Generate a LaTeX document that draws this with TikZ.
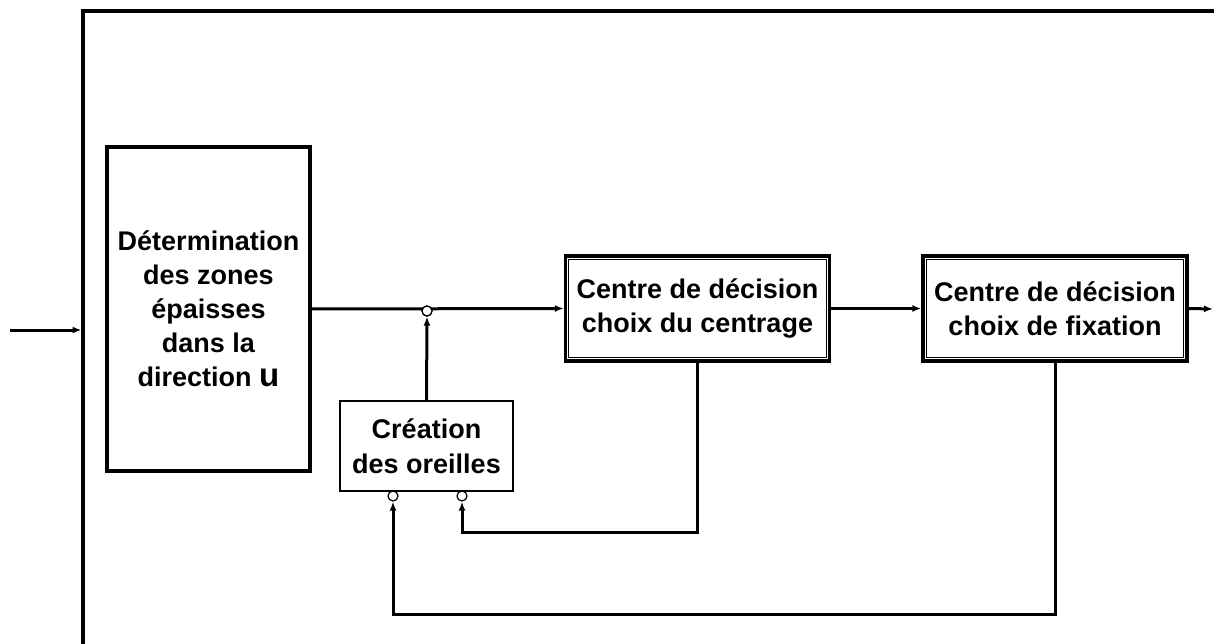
\documentclass[tikz,border=0pt]{standalone}
\usepackage{fontspec}
\setmainfont{Liberation Sans}
\usetikzlibrary{arrows.meta,calc}
\tikzset{
  box/.style={draw, line width=3.2pt, align=center, inner sep=0pt,
    font=\bfseries\fontsize{27}{34}\selectfont},
  thinbox/.style={draw, line width=1.2pt, align=center, inner sep=0pt,
    font=\bfseries\fontsize{27}{35}\selectfont},
  dblbox/.style={box, line width=3.4pt},
  conn/.style={line width=3pt},
  arr/.style={conn, -{Latex[length=9pt,width=7pt]}},
  junc/.style={circle, draw, line width=1.2pt, minimum size=10pt, inner sep=0pt, fill=white},
  frame/.style={line width=3.2pt}
}
\begin{document}
\begin{tikzpicture}[x=1pt,y=-1pt]
\useasboundingbox (0,0) rectangle (1214,644);
% open outer frame
\coordinate (fb) at (83,644);
\coordinate (ft) at (83,11);
\coordinate (fr) at (1214,11);
\draw[frame] (fb) -- (ft) -- (fr);
% nodes
\node[box, minimum width=203pt, minimum height=324pt] (lb) at (208.5,309)
  {D\'etermination\\des zones\\\'epaisses\\dans la\\direction {\fontsize{33}{34}\selectfont u}};
\node[thinbox, minimum width=173pt, minimum height=90pt] (cr) at (426.5,446)
  {Cr\'eation\\des oreilles};
\node[dblbox, minimum width=264pt, minimum height=105pt] (c1) at (697.5,308.5)
  {Centre de d\'ecision\\choix du centrage};
\node[dblbox, minimum width=264pt, minimum height=105pt] (c2) at (1055,308.5)
  {Centre de d\'ecision\\choix de fixation};
\foreach \n in {c1,c2}{
  \draw[line width=1.2pt] ([shift={(5pt,-5pt)}]\n.north west) rectangle ([shift={(-5pt,5pt)}]\n.south east);
}
% junctions
\node[junc] (j1) at (427,311) {};
\node[junc] (j3) at (393,496) {};
\node[junc] (j2) at (462,496) {};
% connectors
\coordinate (in) at (10,330);
\coordinate (fl) at (81.5,330);
\coordinate (out) at (1213,309);
\draw[arr] (in) -- (fl);
\draw[arr] (lb.east) -- (c1.west);
\draw[arr] (cr.north) -- (j1.south);
\draw[arr] (c1.east) -- (c2.west);
\draw[arr] (c2.east) -- (out);
\draw[arr] (c1.south) -- ++(0,170) -| (j2.south);
\draw[arr] (c2.south) -- ++(0,252) -| (j3.south);
\node[junc] at (j1) {};
\end{tikzpicture}
\end{document}
